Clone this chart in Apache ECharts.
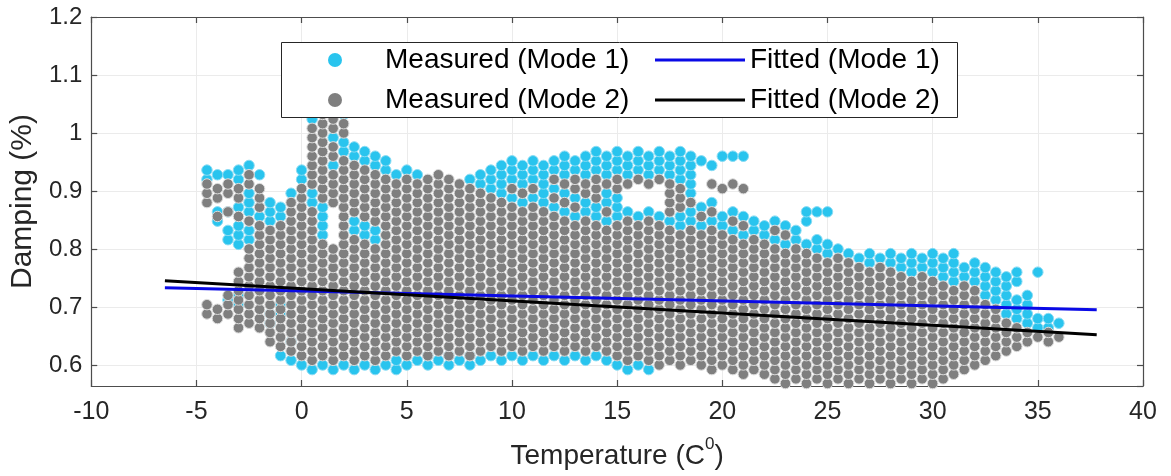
<!DOCTYPE html>
<html>
<head>
<meta charset="utf-8">
<script src="https://cdn.jsdelivr.net/npm/echarts@6/dist/echarts.min.js"></script>
<style>
html,body{margin:0;padding:0;background:#fff;}
#chart{width:1171px;height:476px;}
</style>
</head>
<body>
<div id="chart"></div>
<script>
// x tick values (Temperature, C0)
const xTicks = [-10, -5, 0, 5, 10, 15, 20, 25, 30, 35, 40];
// y tick labels (Damping %)
const yTicks = [0.6, 0.7, 0.8, 0.9, 1, 1.1, 1.2];
// legend labels
const legendNames = ['Measured (Mode 1)', 'Fitted (Mode 1)', 'Measured (Mode 2)', 'Fitted (Mode 2)'];

// Measured (Mode 1): columns of [temperature, [damping values visible]]
const mode1Cols = [
[-4.5,[.920,.936]],
[-4,[.848,.864,.928]],
[-3.5,[.712,.816,.832,.864,.928]],
[-3,[.704,.720,.808,.824,.840,.872,.920,.936]],
[-2.5,[.816,.832,.864,.880,.896,.944]],
[-2,[.856,.928]],
[-1.5,[.672,.688,.848,.864,.880]],
[-1,[.616,.688,.704,.856,.872]],
[-0.5,[.608,.640,.896]],
[0,[.600,.920,.936]],
[0.5,[.592,.880,.896,1.024]],
[1,[.600,.824,.840,.856,.872,1.048]],
[1.5,[.592,.944,.992,1.040]],
[2,[.600,.968,.984,1.032]],
[2.5,[.592,.832,.848,.960,.976]],
[3,[.600,.824,.840,.952,.968]],
[3.5,[.592,.816,.832,.944,.960]],
[4,[.600,.936,.952]],
[4.5,[.592,.608,.928]],
[5,[.600,.936]],
[5.5,[.608,.928]],
[6,[.600,.616]],
[6.5,[.608]],
[7,[.600,.616]],
[7.5,[.608]],
[8,[.600,.616,.920]],
[8.5,[.608,.912,.928]],
[9,[.616,.904,.920,.936]],
[9.5,[.608,.896,.912,.928,.944]],
[10,[.616,.888,.920,.936,.952]],
[10.5,[.608,.880,.912,.928,.944]],
[11,[.616,.888,.920,.936,.952]],
[11.5,[.608,.880,.896,.912,.928,.944]],
[12,[.616,.872,.904,.936,.952]],
[12.5,[.608,.864,.896,.928,.944,.960]],
[13,[.616,.856,.888,.936,.952]],
[13.5,[.608,.864,.880,.928,.944,.960]],
[14,[.616,.856,.872,.936,.952,.968]],
[14.5,[.608,.848,.880,.896,.928,.944,.960]],
[15,[.600,.856,.872,.888,.936,.952,.968]],
[15.5,[.592,.864,.928,.944,.960]],
[16,[.600,.856,.936,.952,.968]],
[16.5,[.592,.864,.928,.944,.960]],
[17,[.856,.936,.952,.968]],
[17.5,[.848,.928,.944,.960]],
[18,[.840,.856,.920,.936,.952,.968]],
[18.5,[.848,.864,.896,.912,.928,.944,.960]],
[19,[.840,.872,.952]],
[19.5,[.848,.880,.944]],
[20,[.840,.856,.960]],
[20.5,[.832,.864,.960]],
[21,[.824,.856,.960]],
[21.5,[.832,.848]],
[22,[.824,.840]],
[22.5,[.816,.848]],
[23,[.808,.840]],
[23.5,[.816,.832]],
[24,[.808,.848,.864]],
[24.5,[.800,.816,.864]],
[25,[.792,.808,.864]],
[25.5,[.800]],
[26,[.792]],
[26.5,[.784]],
[27,[.776,.792]],
[27.5,[.784]],
[28,[.776,.792]],
[28.5,[.768,.784]],
[29,[.760,.776,.792]],
[29.5,[.768,.784]],
[30,[.760,.776,.792]],
[30.5,[.752,.768,.784]],
[31,[.744,.760,.776,.792]],
[31.5,[.752,.768]],
[32,[.744,.760,.776]],
[32.5,[.720,.736,.752,.768]],
[33,[.712,.728,.744,.760]],
[33.5,[.688,.704,.720,.736,.752]],
[34,[.680,.696,.712,.744,.760]],
[34.5,[.672,.688,.704,.720]],
[35,[.664,.680,.760]],
[35.5,[.664,.680]],
[36,[.672]]
];

// Measured (Mode 2)
const mode2Cols = [
[-4.5,[.688,.704,.880,.896,.912]],
[-4,[.680,.696,.856,.888,.904]],
[-3.5,[.688,.704,.720,.864,.896,.912]],
[-3,[.664,.680,.696,.712,.728,.744,.760,.856,.888,.904]],
[-2.5,[.672,.688,.704,.720,.736,.752,.768,.784,.800,.848,.912,.928]],
[-2,[.664,.680,.696,.712,.728,.744,.760,.776,.792,.808,.824,.840,.872,.888,.904]],
[-1.5,[.640,.656,.672,.688,.704,.720,.736,.752,.768,.784,.800,.816,.832]],
[-1,[.632,.648,.664,.680,.696,.712,.728,.744,.760,.776,.792,.808,.824,.840]],
[-0.5,[.624,.640,.656,.672,.688,.704,.720,.736,.752,.768,.784,.800,.816,.832,.848,.864,.880]],
[0,[.616,.632,.648,.664,.680,.696,.712,.728,.744,.760,.776,.792,.808,.824,.840,.856,.872,.888,.904]],
[0.5,[.608,.624,.640,.656,.672,.688,.704,.720,.736,.752,.768,.784,.800,.816,.832,.848,.864,.912,.928,.944,.960,.976,.992,1.008]],
[1,[.616,.632,.648,.664,.680,.696,.712,.728,.744,.760,.776,.792,.808,.888,.904,.920,.936,.952,.968,.984,1.0,1.016,1.032]],
[1.5,[.608,.624,.640,.656,.672,.688,.704,.720,.736,.752,.768,.784,.800,.880,.896,.912,.928,.960,.976,1.008,1.024]],
[2,[.616,.632,.648,.664,.680,.696,.712,.728,.744,.760,.776,.792,.808,.824,.840,.856,.872,.888,.904,.920,.936,.952,1.0,1.016]],
[2.5,[.608,.624,.640,.656,.672,.688,.704,.720,.736,.752,.768,.784,.800,.816,.864,.880,.896,.912,.928,.944]],
[3,[.616,.632,.648,.664,.680,.696,.712,.728,.744,.760,.776,.792,.808,.856,.872,.888,.904,.920,.936]],
[3.5,[.608,.624,.640,.656,.672,.688,.704,.720,.736,.752,.768,.784,.800,.848,.864,.880,.896,.912,.928]],
[4,[.616,.632,.648,.664,.680,.696,.712,.728,.744,.760,.776,.792,.808,.824,.840,.856,.872,.888,.904,.920]],
[4.5,[.624,.640,.656,.672,.688,.704,.720,.736,.752,.768,.784,.800,.816,.832,.848,.864,.880,.896,.912]],
[5,[.616,.632,.648,.664,.680,.696,.712,.728,.744,.760,.776,.792,.808,.824,.840,.856,.872,.888,.904,.920]],
[5.5,[.624,.640,.656,.672,.688,.704,.720,.736,.752,.768,.784,.800,.816,.832,.848,.864,.880,.896,.912]],
[6,[.616,.632,.648,.664,.680,.696,.712,.728,.744,.760,.776,.792,.808,.824,.840,.856,.872,.888,.904,.920]],
[6.5,[.624,.640,.656,.672,.688,.704,.720,.736,.752,.768,.784,.800,.816,.832,.848,.864,.880,.896,.912,.928]],
[7,[.616,.632,.648,.664,.680,.696,.712,.728,.744,.760,.776,.792,.808,.824,.840,.856,.872,.888,.904,.920]],
[7.5,[.624,.640,.656,.672,.688,.704,.720,.736,.752,.768,.784,.800,.816,.832,.848,.864,.880,.896,.912]],
[8,[.616,.632,.648,.664,.680,.696,.712,.728,.744,.760,.776,.792,.808,.824,.840,.856,.872,.888,.904]],
[8.5,[.624,.640,.656,.672,.688,.704,.720,.736,.752,.768,.784,.800,.816,.832,.848,.864,.880,.896]],
[9,[.632,.648,.664,.680,.696,.712,.728,.744,.760,.776,.792,.808,.824,.840,.856,.872,.888]],
[9.5,[.624,.640,.656,.672,.688,.704,.720,.736,.752,.768,.784,.800,.816,.832,.848,.864,.880]],
[10,[.632,.648,.664,.680,.696,.712,.728,.744,.760,.776,.792,.808,.824,.840,.856,.872,.904]],
[10.5,[.624,.640,.656,.672,.688,.704,.720,.736,.752,.768,.784,.800,.816,.832,.848,.864,.896]],
[11,[.632,.648,.664,.680,.696,.712,.728,.744,.760,.776,.792,.808,.824,.840,.856,.872,.904]],
[11.5,[.624,.640,.656,.672,.688,.704,.720,.736,.752,.768,.784,.800,.816,.832,.848,.864]],
[12,[.632,.648,.664,.680,.696,.712,.728,.744,.760,.776,.792,.808,.824,.840,.856,.888,.920]],
[12.5,[.624,.640,.656,.672,.688,.704,.720,.736,.752,.768,.784,.800,.816,.832,.848,.880,.912]],
[13,[.632,.648,.664,.680,.696,.712,.728,.744,.760,.776,.792,.808,.824,.840,.872,.904,.920]],
[13.5,[.624,.640,.656,.672,.688,.704,.720,.736,.752,.768,.784,.800,.816,.832,.848,.896,.912]],
[14,[.632,.648,.664,.680,.696,.712,.728,.744,.760,.776,.792,.808,.824,.840,.888,.904,.920]],
[14.5,[.624,.640,.656,.672,.688,.704,.720,.736,.752,.768,.784,.800,.816,.832,.864,.912]],
[15,[.616,.632,.648,.664,.680,.696,.712,.728,.744,.760,.776,.792,.808,.824,.840,.904,.920]],
[15.5,[.608,.624,.640,.656,.672,.688,.704,.720,.736,.752,.768,.784,.800,.816,.832,.848,.912]],
[16,[.616,.632,.648,.664,.680,.696,.712,.728,.744,.760,.776,.792,.808,.824,.840,.920]],
[16.5,[.608,.624,.640,.656,.672,.688,.704,.720,.736,.752,.768,.784,.800,.816,.832,.848,.912]],
[17,[.600,.616,.632,.648,.664,.680,.696,.712,.728,.744,.760,.776,.792,.808,.824,.840,.920]],
[17.5,[.608,.624,.640,.656,.672,.688,.704,.720,.736,.752,.768,.784,.800,.816,.832,.864,.880,.896,.912]],
[18,[.600,.616,.632,.648,.664,.680,.696,.712,.728,.744,.760,.776,.792,.808,.824,.872,.888,.904]],
[18.5,[.608,.624,.640,.656,.672,.688,.704,.720,.736,.752,.768,.784,.800,.816,.832,.880]],
[19,[.600,.616,.632,.648,.664,.680,.696,.712,.728,.744,.760,.776,.792,.808,.824,.856]],
[19.5,[.592,.608,.624,.640,.656,.672,.688,.704,.720,.736,.752,.768,.784,.800,.816,.832,.864,.912]],
[20,[.600,.616,.632,.648,.664,.680,.696,.712,.728,.744,.760,.776,.792,.808,.824,.904]],
[20.5,[.592,.608,.624,.640,.656,.672,.688,.704,.720,.736,.752,.768,.784,.800,.816,.848,.912]],
[21,[.584,.600,.616,.632,.648,.664,.680,.696,.712,.728,.744,.760,.776,.792,.808,.840,.904]],
[21.5,[.592,.608,.624,.640,.656,.672,.688,.704,.720,.736,.752,.768,.784,.800,.816]],
[22,[.584,.600,.616,.632,.648,.664,.680,.696,.712,.728,.744,.760,.776,.792,.808]],
[22.5,[.576,.592,.608,.624,.640,.656,.672,.688,.704,.720,.736,.752,.768,.784,.800,.832]],
[23,[.568,.584,.600,.616,.632,.648,.664,.680,.696,.712,.728,.744,.760,.776,.792,.824]],
[23.5,[.576,.592,.608,.624,.640,.656,.672,.688,.704,.720,.736,.752,.768,.784,.800]],
[24,[.568,.584,.600,.616,.632,.648,.664,.680,.696,.712,.728,.744,.760,.776,.792]],
[24.5,[.576,.592,.608,.624,.640,.656,.672,.688,.704,.720,.736,.752,.768,.784]],
[25,[.568,.584,.600,.616,.632,.648,.664,.680,.696,.712,.728,.744,.760,.776]],
[25.5,[.576,.592,.608,.624,.640,.656,.672,.688,.704,.720,.736,.752,.768,.784]],
[26,[.568,.584,.600,.616,.632,.648,.664,.680,.696,.712,.728,.744,.760,.776]],
[26.5,[.576,.592,.608,.624,.640,.656,.672,.688,.704,.720,.736,.752,.768]],
[27,[.568,.584,.600,.616,.632,.648,.664,.680,.696,.712,.728,.744,.760]],
[27.5,[.576,.592,.608,.624,.640,.656,.672,.688,.704,.720,.736,.752,.768]],
[28,[.568,.584,.600,.616,.632,.648,.664,.680,.696,.712,.728,.744,.760]],
[28.5,[.576,.592,.608,.624,.640,.656,.672,.688,.704,.720,.736,.752]],
[29,[.568,.584,.600,.616,.632,.648,.664,.680,.696,.712,.728,.744]],
[29.5,[.576,.592,.608,.624,.640,.656,.672,.688,.704,.720,.736,.752]],
[30,[.568,.584,.600,.616,.632,.648,.664,.680,.696,.712,.728,.744]],
[30.5,[.576,.592,.608,.624,.640,.656,.672,.688,.704,.720,.736]],
[31,[.584,.600,.616,.632,.648,.664,.680,.696,.712,.728]],
[31.5,[.592,.608,.624,.640,.656,.672,.688,.704,.720,.736]],
[32,[.600,.616,.632,.648,.664,.680,.696,.712,.728]],
[32.5,[.608,.624,.640,.656,.672,.688,.704]],
[33,[.616,.632,.648,.664,.680,.696]],
[33.5,[.624,.640,.656,.672]],
[34,[.632,.648,.664]],
[34.5,[.640,.656]],
[35,[.648]],
[35.5,[.640,.656]],
[36,[.648]]
];

// Fitted lines: end points [temperature, damping]
const fitted1 = [[-6.5, 0.733], [37.8, 0.695]];
const fitted2 = [[-6.5, 0.745], [37.8, 0.652]];

const yMin = 0.5637, yMax = 1.2;

function flatten(cols) {
  const out = [];
  cols.forEach(c => c[1].forEach(y => out.push([c[0], y])));
  return out;
}

const FONT = '"Liberation Sans", Arial, sans-serif';
const TXT = '#262626';
const AX = '#4d4d4d';
const CYAN = '#29c4ee';
const GRAY = '#7f7f7f';
const BLUE = '#0a0ae6';
const LINEICON = 'path://M0,0H90V3H0Z';

function legendPart(name, left, top, icon, color, isLine) {
  return {
    left: left, top: top, orient: 'horizontal', padding: 0, z: 20,
    selectedMode: false,
    itemWidth: isLine ? 90 : 14, itemHeight: 14, itemGap: 0,
    textStyle: {fontFamily: FONT, fontSize: 28, color: '#000', padding: isLine ? 0 : [0, 0, 0, 38]},
    data: [{name: name, icon: icon, itemStyle: {color: color, borderWidth: 0}}]
  };
}

const chart = echarts.init(document.getElementById('chart'), null, {renderer: 'canvas'});
chart.setOption({
  animation: false,
  backgroundColor: '#ffffff',
  textStyle: {fontFamily: FONT},
  grid: {left: 90, right: 28, top: 17, bottom: 90, containLabel: false},
  graphic: [{
    type: 'rect', z: 15,
    shape: {x: 281.5, y: 42.5, width: 676, height: 75},
    style: {fill: '#ffffff', stroke: '#262626', lineWidth: 1}
  }],
  legend: [
    legendPart(legendNames[0], 328, 46, 'circle', CYAN, false),
    legendPart(legendNames[1], 655, 46, LINEICON, BLUE, true),
    legendPart(legendNames[2], 328, 86, 'circle', GRAY, false),
    legendPart(legendNames[3], 655, 86, LINEICON, '#000000', true)
  ],
  xAxis: [{
    type: 'value', min: xTicks[0], max: xTicks[xTicks.length - 1], interval: 5,
    position: 'bottom',
    name: '{a|Temperature (C}{s|0}{a|)}',
    nameLocation: 'middle', nameGap: 50,
    nameTextStyle: {
      rich: {
        a: {fontFamily: FONT, fontSize: 28, color: TXT, lineHeight: 34, verticalAlign: 'bottom'},
        s: {fontFamily: FONT, fontSize: 17, color: TXT, lineHeight: 17, verticalAlign: 'top'}
      }
    },
    axisLine: {show: true, onZero: false, lineStyle: {color: AX, width: 1.2}},
    axisTick: {show: true, inside: true, length: 6, lineStyle: {color: AX, width: 1.2}},
    axisLabel: {fontFamily: FONT, fontSize: 25, color: TXT, margin: 14},
    splitLine: {show: true, lineStyle: {color: '#ebebeb', width: 1}}
  }, {
    type: 'value', min: xTicks[0], max: xTicks[xTicks.length - 1], interval: 5,
    position: 'top',
    axisLine: {show: true, onZero: false, lineStyle: {color: AX, width: 1.2}},
    axisTick: {show: true, inside: true, length: 6, lineStyle: {color: AX, width: 1.2}},
    axisLabel: {show: false},
    splitLine: {show: false}
  }],
  yAxis: [{
    type: 'value', min: yMin, max: yMax, minInterval: 0.1, maxInterval: 0.1,
    position: 'left',
    name: 'Damping (%)',
    nameLocation: 'middle', nameGap: 50,
    nameTextStyle: {fontFamily: FONT, fontSize: 30, color: TXT},
    axisLine: {show: true, onZero: false, lineStyle: {color: AX, width: 1.2}},
    axisTick: {show: true, inside: true, length: 6, lineStyle: {color: AX, width: 1.2}},
    axisLabel: {
      fontFamily: FONT, fontSize: 24, color: TXT, margin: 9, showMinLabel: false,
      formatter: v => {
        const t = yTicks.find(k => Math.abs(k - v) < 0.005);
        return t === undefined ? '' : String(t);
      }
    },
    splitLine: {show: true, lineStyle: {color: '#ebebeb', width: 1}}
  }, {
    type: 'value', min: yMin, max: yMax, minInterval: 0.1, maxInterval: 0.1,
    position: 'right',
    axisLine: {show: true, onZero: false, lineStyle: {color: AX, width: 1.2}},
    axisTick: {show: true, inside: true, length: 6, lineStyle: {color: AX, width: 1.2}},
    axisLabel: {show: false},
    splitLine: {show: false}
  }],
  series: [
    {
      name: legendNames[0], type: 'scatter', xAxisIndex: 0, yAxisIndex: 0,
      symbol: 'circle', symbolSize: 10.5,
      itemStyle: {color: CYAN, borderColor: '#8adcf4', borderWidth: 1, opacity: 1},
      data: flatten(mode1Cols), z: 2
    },
    {
      name: legendNames[2], type: 'scatter', xAxisIndex: 0, yAxisIndex: 0,
      symbol: 'circle', symbolSize: 10.5,
      itemStyle: {color: GRAY, borderColor: '#dcdcdc', borderWidth: 1, opacity: 1},
      data: flatten(mode2Cols), z: 3
    },
    {
      name: legendNames[1], type: 'line', xAxisIndex: 0, yAxisIndex: 0,
      symbol: 'none', color: BLUE,
      lineStyle: {color: BLUE, width: 3},
      data: fitted1, z: 4
    },
    {
      name: legendNames[3], type: 'line', xAxisIndex: 0, yAxisIndex: 0,
      symbol: 'none', color: '#000000',
      lineStyle: {color: '#000000', width: 3},
      data: fitted2, z: 5
    }
  ]
});
</script>
</body>
</html>
